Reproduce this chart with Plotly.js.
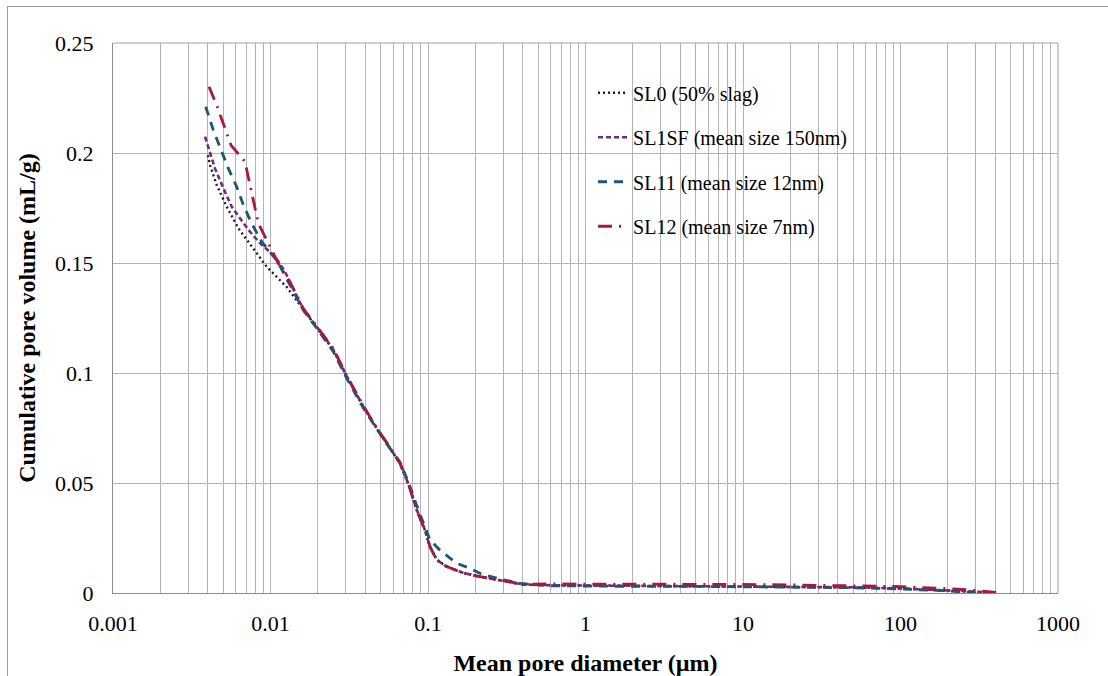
<!DOCTYPE html>
<html>
<head>
<meta charset="utf-8">
<script src="https://cdn.plot.ly/plotly-3.0.1.min.js"></script>
<style>
  html, body { margin: 0; padding: 0; background: #fff; overflow: hidden; }
  #frame { position: absolute; left: 7px; top: 6px; width: 1300px; height: 900px; border: 1px solid #9a9a9a; pointer-events: none; }
  #chart { position: absolute; left: 0; top: 0; width: 1108px; height: 676px; }
</style>
</head>
<body>
<div id="chart"></div>
<div id="frame"></div>
<script>
// Mean pore diameter (µm) and cumulative pore volume (mL/g)
const names = ["SL0 (50% slag)", "SL1SF (mean size 150nm)", "SL11 (mean size 12nm)", "SL12 (mean size 7nm)"];

const xSL0 = [0.0040, 0.00413, 0.00455, 0.00527, 0.00625, 0.00778, 0.00946, 0.0127, 0.0162, 0.0196, 0.025, 0.0305, 0.0388, 0.047, 0.0547, 0.0664, 0.075, 0.085, 0.0957, 0.103, 0.1135, 0.13, 0.168, 0.214, 0.316, 0.4, 0.6, 1, 2, 5, 10, 20, 50, 100, 200, 300, 380];
const ySL0 = [0.199, 0.1945, 0.1855, 0.1756, 0.1658, 0.1567, 0.1483, 0.139, 0.1286, 0.121, 0.1105, 0.0983, 0.0847, 0.075, 0.068, 0.059, 0.0495, 0.0375, 0.0285, 0.021, 0.0152, 0.0122, 0.0092, 0.0075, 0.0053, 0.0040, 0.0036, 0.0035, 0.0034, 0.0032, 0.0030, 0.0028, 0.0025, 0.0020, 0.0012, 0.0005, 0.0];

const xSL1SF = [0.00384, 0.00444, 0.00502, 0.00567, 0.0064, 0.00741, 0.00858, 0.0107, 0.01236, 0.0162, 0.0196, 0.025, 0.0305, 0.0388, 0.047, 0.0547, 0.0664, 0.075, 0.085, 0.0957, 0.103, 0.1135, 0.13, 0.168, 0.214, 0.316, 0.4, 0.6, 1, 2, 5, 10, 20, 50, 100, 200, 300, 400];
const ySL1SF = [0.2074, 0.193, 0.184, 0.1756, 0.1703, 0.1642, 0.159, 0.1529, 0.146, 0.1288, 0.1212, 0.1108, 0.0985, 0.0848, 0.0752, 0.0682, 0.059, 0.0497, 0.0376, 0.0286, 0.021, 0.0151, 0.0121, 0.0091, 0.0074, 0.0052, 0.0038, 0.0035, 0.0034, 0.0033, 0.0032, 0.0031, 0.0029, 0.0026, 0.0021, 0.0013, 0.0006, 0.0];

const xSL11 = [0.00388, 0.00433, 0.00485, 0.0054, 0.0061, 0.00672, 0.00759, 0.00879, 0.0111, 0.0135, 0.0162, 0.0196, 0.025, 0.0305, 0.0388, 0.047, 0.0547, 0.0664, 0.075, 0.085, 0.0957, 0.103, 0.119, 0.152, 0.185, 0.22, 0.3, 0.4, 0.6, 1, 2, 5, 10, 20, 50, 100, 200, 300];
const ySL11 = [0.221, 0.2105, 0.2014, 0.193, 0.1847, 0.1764, 0.168, 0.1597, 0.1506, 0.139, 0.1284, 0.1205, 0.1098, 0.0975, 0.0842, 0.0748, 0.0678, 0.0595, 0.0505, 0.0395, 0.0305, 0.0241, 0.0195, 0.0135, 0.0112, 0.0085, 0.0060, 0.0042, 0.0033, 0.0031, 0.0030, 0.0030, 0.0029, 0.0027, 0.0024, 0.0018, 0.0010, 0.0];

const xSL12 = [0.00407, 0.00455, 0.00561, 0.00689, 0.00741, 0.00837, 0.0112, 0.0135, 0.0162, 0.0196, 0.025, 0.0305, 0.0388, 0.047, 0.0547, 0.0664, 0.075, 0.0847, 0.0957, 0.103, 0.1135, 0.1315, 0.1675, 0.214, 0.316, 0.403, 0.6, 1, 2, 5, 10, 20, 50, 100, 200, 300, 440];
const ySL12 = [0.2301, 0.2218, 0.2036, 0.196, 0.1855, 0.168, 0.1499, 0.1405, 0.1292, 0.1215, 0.1112, 0.0988, 0.0852, 0.0752, 0.0684, 0.059, 0.0499, 0.0377, 0.0286, 0.021, 0.015, 0.012, 0.009, 0.0074, 0.0051, 0.0040, 0.0041, 0.0041, 0.0041, 0.0040, 0.0039, 0.0037, 0.0034, 0.0029, 0.0020, 0.0012, 0.0];

const xTickVals = [0.001, 0.01, 0.1, 1, 10, 100, 1000];
const xTickText = ["0.001", "0.01", "0.1", "1", "10", "100", "1000"];
const yTickVals = [0, 0.05, 0.1, 0.15, 0.2, 0.25];
const yTickText = ["0", "0.05", "0.1", "0.15", "0.2", "0.25"];

const serif = '"Liberation Serif", "Times New Roman", serif';
const gridCol = "#b4b4b4";

const minorVals = [];
for (let d = -3; d < 3; d++) { for (let k = 2; k <= 9; k++) { minorVals.push(k * Math.pow(10, d)); } }

const traces = [
  {x: xSL0, y: ySL0, name: names[0], legendgroup: "a", line: {color: "#1e1e1e", width: 2.4, dash: "2px,3px"}},
  {x: xSL1SF, y: ySL1SF, name: names[1], legendgroup: "b", line: {color: "#6f2a7e", width: 2.6, dash: "5px,3px"}},
  {x: xSL11, y: ySL11, name: names[2], legendgroup: "c", line: {color: "#1f5577", width: 2.8, dash: "9px,7px"}},
  {x: xSL12, y: ySL12, name: names[3], legendgroup: "d", line: {color: "#a3193f", width: 2.8, dash: "14px,7px,2px,7px"}}
].map(t => Object.assign({type: "scatter", mode: "lines"}, t));

const layout = {
  width: 1108, height: 676,
  paper_bgcolor: "rgba(0,0,0,0)", plot_bgcolor: "#fff",
  margin: {l: 113, r: 50, t: 43, b: 83},
  font: {family: serif, size: 22, color: "#000"},
  showlegend: true,
  legend: {
    x: 0.508, y: 0.945, xanchor: "left", yanchor: "top",
    bgcolor: "rgba(255,255,255,0)", borderwidth: 0,
    font: {family: serif, size: 20, color: "#000"},
    traceorder: "grouped", tracegroupgap: 15.5
  },
  xaxis: {
    type: "log", range: [-3, 3],
    tickvals: xTickVals, ticktext: xTickText,
    showgrid: true, gridcolor: gridCol, gridwidth: 1,
    minor: {showgrid: true, gridcolor: gridCol, gridwidth: 1, tickvals: minorVals},
    showline: true, linecolor: "#8c8c8c", linewidth: 1,
    ticks: "", zeroline: false, ticklabelstandoff: 11,
    tickfont: {family: serif, size: 22, color: "#000"},
    title: {text: "Mean pore diameter (µm)", font: {family: serif, size: 24, color: "#000", weight: "bold"}, standoff: 18}
  },
  yaxis: {
    range: [0, 0.25],
    tickvals: yTickVals, ticktext: yTickText,
    showgrid: true, gridcolor: gridCol, gridwidth: 1,
    showline: true, linecolor: "#8c8c8c", linewidth: 1,
    ticks: "", zeroline: false, ticklabelstandoff: 14,
    tickfont: {family: serif, size: 22, color: "#000"},
    title: {text: "Cumulative pore volume (mL/g)", font: {family: serif, size: 24, color: "#000", weight: "bold"}, standoff: 12}
  },
  shapes: [
    {type: "line", xref: "paper", yref: "paper", x0: 1, x1: 1, y0: 0, y1: 1, line: {color: "#a0a0a0", width: 1}},
    {type: "line", xref: "paper", yref: "paper", x0: 0, x1: 1, y0: 1, y1: 1, line: {color: "#a0a0a0", width: 1}}
  ]
};

Plotly.newPlot("chart", traces, layout, {displayModeBar: false, staticPlot: true});
</script>
</body>
</html>
